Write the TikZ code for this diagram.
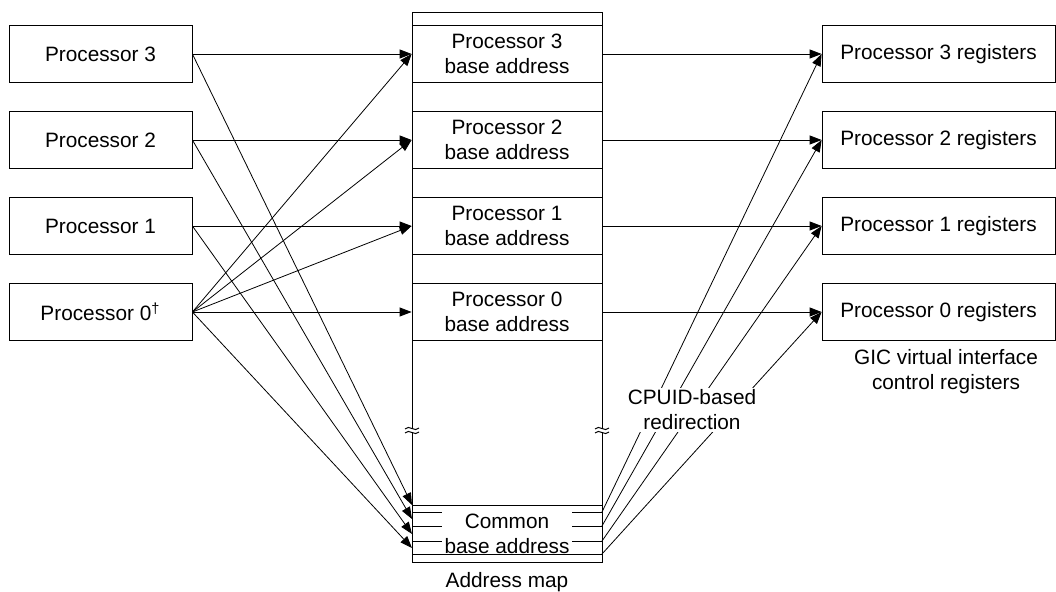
\documentclass[tikz,border=0pt]{standalone}
\usepackage{fontspec}
\setmainfont{Liberation Sans}
\usetikzlibrary{arrows.meta,positioning}
\tikzset{>={Triangle[length=6pt,width=4.5pt]},line width=.6pt,
  every node/.style={font=\fontsize{10.4}{12.5}\selectfont},
  procbox/.style={draw,minimum width=91.5pt,minimum height=28.5pt,inner sep=0pt},
  regbox/.style={draw,minimum width=116.5pt,minimum height=28.5pt,inner sep=0pt},
  mapblock/.style={draw,minimum width=95pt,minimum height=28.5pt,inner sep=0pt,align=center},
  link/.style={->},
  caption/.style={align=center,inner sep=1pt}}

\begin{document}
\begin{tikzpicture}[x=.5pt,y=-.5pt]
\useasboundingbox (0,0) rectangle (1056,592);
% address map outline
\draw (412,12) rectangle (602,562);\draw (412,25)--(602,25);
\foreach \i/\y/\lab in {3/54/Processor 3,2/140/Processor 2,1/226/Processor 1,0/312/Processor 0\textsuperscript{\textdagger}}{
  \node[procbox] (p\i) at (100.5,\y) {\lab};
  \node[mapblock] (a\i) at (507,\y) {Processor \i\\base address};
  \node[regbox] (r\i) at (938.5,\y) {Processor \i\ registers};}
% common block
\draw (412,505)--(602,505);\draw (412,554)--(602,554);
\foreach \y in {512,526,541}{\draw (412,\y)--(442,\y);\draw (572,\y)--(602,\y);}
\node[caption] (cm) at (507,534) {Common\\base address};
\foreach \i/\y in {3/505,2/519,1/534,0/548}{\coordinate (c\i) at (412,\y);}
\foreach \i/\y in {3/512,2/526,1/541,0/554}{\coordinate (d\i) at (602,\y);}
% breaks
\foreach \x in {412,602}{\fill[white] (\x-2,428) rectangle (\x+2,432);
  \draw[line width=.5pt] (\x-7,429) .. controls (\x-3,424) and (\x+3,433) .. (\x+7,428);
  \draw[line width=.5pt] (\x-7,433) .. controls (\x-3,428) and (\x+3,437) .. (\x+7,432);}
% connectors
\foreach \i in {0,...,3}{\draw[link] (p\i.east)--(a\i.west);\draw[link] (p\i.east)--(c\i);
  \draw[link] (a\i.east)--(r\i.west);\draw[link] (d\i)--(r\i.west);}
\foreach \i in {1,2,3}{\draw[link] (p0.east)--(a\i.west);}
\node[caption,fill=white] (cpuid) at (692,410) {CPUID-based\\redirection};
\node[caption] (map) at (507,582) {Address map};
\node[caption] (gic) at (946,372) {GIC virtual interface\\control registers};
\end{tikzpicture}
\end{document}
